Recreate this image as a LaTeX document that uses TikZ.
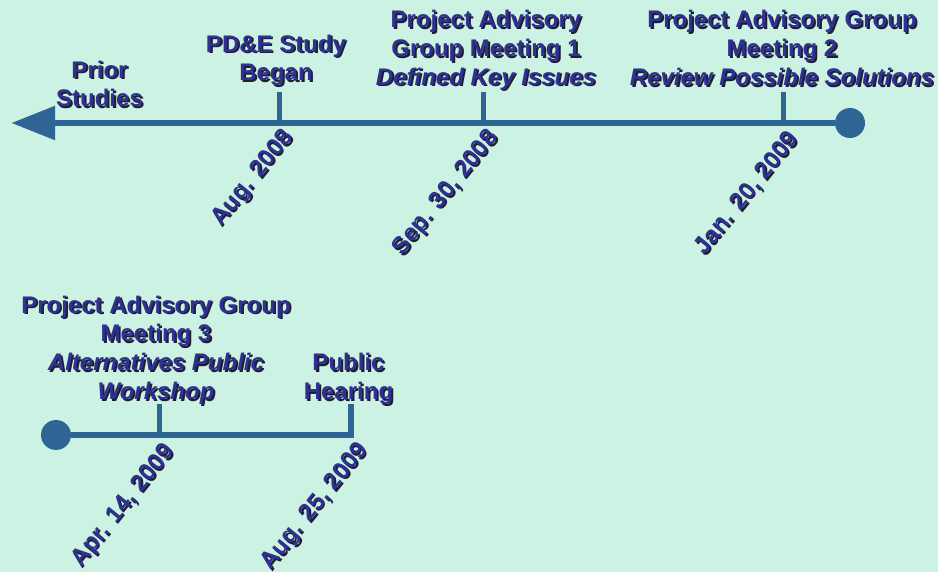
\documentclass[tikz,border=0pt]{standalone}
\usepackage{fontspec}
\setmainfont{Liberation Sans}
\usetikzlibrary{arrows.meta}
\definecolor{bgc}{RGB}{204,242,228}
\definecolor{linec}{RGB}{46,101,148}
\definecolor{txtc}{RGB}{46,49,146}
\definecolor{shadc}{RGB}{30,30,45}
\newcommand\shd[3]{\rlap{\kern#1\raisebox{-#2}{\color{shadc}#3}}#3}
\newcommand\sh[1]{\strut\shd{1.8pt}{1.8pt}{#1}}
\newcommand\shi[1]{\strut\shd{1.8pt}{1.8pt}{\itshape #1}}
\newcommand\shr[1]{\shd{-0.3pt}{2.5pt}{#1}}
\begin{document}
\begin{tikzpicture}[x=1pt,y=-1pt,
  lbl/.style={inner sep=0pt, anchor=north, align=center, text=txtc,
    font=\fontsize{24}{28.8}\selectfont\bfseries},
  datelbl/.style={inner sep=0pt, rotate=51, text=txtc,
    font=\fontsize{24}{28.8}\selectfont\bfseries},
  tl/.style={draw=linec, line width=5.3pt},
  tickline/.style={draw=linec, line width=5pt},
  dot/.style={circle, fill=linec, minimum size=30pt, inner sep=0pt}]
\fill[bgc] (0,0) rectangle (938,572);
\useasboundingbox (0,0) rectangle (938,572);

% ---------- top timeline ----------
\node[dot] (c1) at (850,123) {};
\coordinate (tip) at (11.5,123);
\draw[tl, -{Triangle[length=43.5pt, width=33pt]}] (c1) -- (tip);

\coordinate (t1b) at (279,123);  \coordinate (t1t) at (279,92);
\coordinate (t2b) at (483.5,123);\coordinate (t2t) at (483.5,92);
\coordinate (t3b) at (783,123);  \coordinate (t3t) at (783,92);
\draw[tickline] (t1b) -- (t1t);
\draw[tickline] (t2b) -- (t2t);
\draw[tickline] (t3b) -- (t3t);

\node[lbl] (prior) at (99.5,57.8) {\sh{Prior}\\\sh{Studies}};
\node[lbl] (pde) at (276,31.8) {\sh{PD\&E Study}\\\sh{Began}};
\node[lbl] (pag1) at (486,7.2) {\sh{Project Advisory}\\\sh{Group Meeting 1}\\\shi{Defined Key Issues}};
\node[lbl] (pag2) at (782,7.5) {\sh{Project Advisory Group}\\\sh{Meeting 2}\\\shi{Review Possible Solutions}};

\node[datelbl] (d1) at (254,179) {\shr{Aug. 2008}};
\node[datelbl] (d2) at (447,194) {\shr{Sep. 30, 2008}};
\node[datelbl] (d3) at (748,194) {\shr{Jan. 20, 2009}};

% ---------- bottom timeline ----------
\node[dot] (c2) at (56,435) {};
\coordinate (t4b) at (159,435);  \coordinate (t4t) at (159,404);
\coordinate (t5b) at (351,435);  \coordinate (t5t) at (351,404);
\draw[tl, line join=miter] (c2) -- (t5b) -- (t5t);
\draw[tickline] (t4b) -- (t4t);

\node[lbl] (pag3) at (156,292.8) {\sh{Project Advisory Group}\\\sh{Meeting 3}\\\shi{Alternatives Public}\\\shi{Workshop}};
\node[lbl] (hear) at (348.5,350.5) {\sh{Public}\\\sh{Hearing}};

\node[datelbl] (d4) at (124.5,506.5) {\shr{Apr. 14, 2009}};
\node[datelbl] (d5) at (316,507.5) {\shr{Aug. 25, 2009}};
\end{tikzpicture}
\end{document}
